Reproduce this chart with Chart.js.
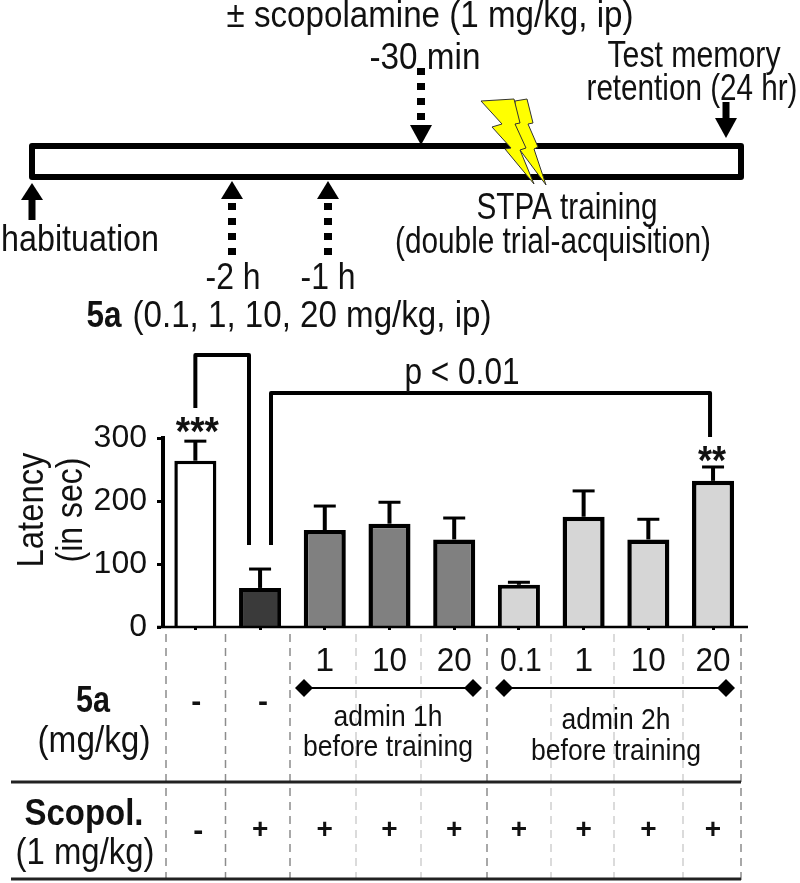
<!DOCTYPE html>
<html>
<head>
<meta charset="utf-8">
<title>Latency chart</title>
<script src="https://cdn.jsdelivr.net/npm/chart.js@4/dist/chart.umd.min.js"></script>
<style>
html, body { margin: 0; padding: 0; background: #fff; }
canvas { display: block; }
</style>
</head>
<body>
<canvas id="chart" width="800" height="883"></canvas>
<script>
const categories = ['vehicle', 'scopolamine', '1h 1', '1h 10', '1h 20', '2h 0.1', '2h 1', '2h 10', '2h 20'];
const latency = [264, 62, 154, 164, 139, 67, 175, 139, 232];
const latencyErr = [31, 30, 38, 34, 34, 4, 41, 32, 22];
const barColors = ['#ffffff', '#3a3a3a', '#808080', '#808080', '#808080', '#d6d6d6', '#d6d6d6', '#d6d6d6', '#d6d6d6'];
const yTicks = [0, 100, 200, 300];
const dose5a = ['-', '-', '1', '10', '20', '0.1', '1', '10', '20'];
const scopol = ['-', '+', '+', '+', '+', '+', '+', '+', '+'];

const FONT = '"Liberation Sans", Arial, sans-serif';
const INK = '#111';

// the reference text is tall and narrow, so width squeezes a larger font
function txt(ctx, s, x, y, size, width, bold) {
    ctx.font = `${bold ? 'bold ' : ''}${size}px ${FONT}`;
    ctx.fillStyle = INK;
    ctx.textAlign = 'center';
    ctx.textBaseline = 'middle';
    if (width) ctx.fillText(s, x, y + 2, width);
    else ctx.fillText(s, x, y + 2);
}

function path(ctx, pts, lw, color) {
    ctx.beginPath();
    pts.forEach((p, i) => i ? ctx.lineTo(p[0], p[1]) : ctx.moveTo(p[0], p[1]));
    ctx.lineWidth = lw;
    ctx.strokeStyle = color || '#000';
    ctx.stroke();
}

function poly(ctx, pts, fill) {
    ctx.beginPath();
    pts.forEach((p, i) => i ? ctx.lineTo(p[0], p[1]) : ctx.moveTo(p[0], p[1]));
    ctx.closePath();
    ctx.fillStyle = fill;
    ctx.fill();
}

// arrow pointing to (x, tip); dir is -1 when it comes from above, 1 from below
function arrow(ctx, x, tip, base, end, dir, dashed) {
    ctx.save();
    if (dashed) ctx.setLineDash([7, 8]);
    path(ctx, [[x, end], [x, base]], dashed ? 8 : 7);
    ctx.restore();
    poly(ctx, [[x, tip], [x - 11, tip + dir * Math.abs(base - tip)], [x + 11, tip + dir * Math.abs(base - tip)]], '#000');
}

function drawSchematic(ctx) {
    ctx.lineJoin = 'round';
    ctx.lineCap = 'butt';
    ctx.fillStyle = '#fff';
    ctx.fillRect(32, 146, 709, 31);
    ctx.strokeStyle = '#000';
    ctx.lineWidth = 6;
    ctx.strokeRect(32, 146, 709, 31);

    arrow(ctx, 421, 145, 125, 68, -1, true);
    arrow(ctx, 726, 138, 118, 102, -1, false);
    arrow(ctx, 32, 183, 200, 220, 1, false);
    arrow(ctx, 232, 181, 199, 255, 1, true);
    arrow(ctx, 328, 181, 199, 255, 1, true);

    const back = [[515, 101], [527, 99], [533, 123], [528, 124], [538, 147], [534, 149], [546, 185], [520, 150], [515, 124]];
    const front = [[481, 101], [514, 99], [520, 123], [515, 124], [526, 148], [520, 150], [534, 184], [505, 149], [511, 148], [492, 127], [502, 124]];
    [back, front].forEach(b => {
        poly(ctx, b, '#ffff00');
        path(ctx, b.concat([b[0]]), 1, '#333');
    });

    txt(ctx, '\u00b1 scopolamine (1 mg/kg, ip)', 430, 15, 36, 407);
    txt(ctx, '-30 min', 425, 57, 36, 111);
    txt(ctx, 'Test memory', 694, 55, 36, 173);
    txt(ctx, 'retention (24 hr)', 692, 88, 36, 211);
    txt(ctx, 'habituation', 80, 239, 36, 158);
    txt(ctx, 'STPA training', 567, 207, 36, 181);
    txt(ctx, '(double trial-acquisition)', 553, 241, 36, 316);
    txt(ctx, '-2 h', 233, 277, 36, 55);
    txt(ctx, '-1 h', 328, 277, 36, 55);
    txt(ctx, '5a', 104, 315, 36, 35, true);
    txt(ctx, '(0.1, 1, 10, 20 mg/kg, ip)', 312, 315, 36, 359);
}

function drawBrackets(ctx, x) {
    ctx.lineJoin = 'round';
    path(ctx, [[x.getPixelForValue(0), 408], [x.getPixelForValue(0), 355], [249, 355], [249, 545]], 4);
    path(ctx, [[271, 545], [271, 393], [x.getPixelForValue(8) - 3, 393], [x.getPixelForValue(8) - 3, 437]], 4);
    txt(ctx, 'p < 0.01', 462, 372, 36, 115);
    txt(ctx, '***', x.getPixelForValue(0) + 2, 432, 40, 43, true);
    txt(ctx, '**', x.getPixelForValue(8) - 1, 461, 40, 28, true);
}

function drawTable(ctx, x) {
    const edges = [166, 225.5, 290, 356, 421, 487, 551, 614, 683, 741];
    ctx.save();
    ctx.setLineDash([8, 6]);
    edges.forEach((px, i) => {
        const light = [3, 4, 6, 7, 8].includes(i);
        path(ctx, [[px, 634], [px, 880]], 1.5, light ? '#cfcfcf' : '#8c8c8c');
    });
    ctx.restore();

    path(ctx, [[11, 782], [741, 782]], 3, '#222');
    path(ctx, [[11, 879], [741, 879]], 3, '#222');

    [[304, 473], [504, 726]].forEach(r => {
        path(ctx, [[r[0], 688], [r[1], 688]], 2);
        r.forEach(d => poly(ctx, [[d, 679], [d + 9, 688], [d, 697], [d - 9, 688]], '#000'));
    });

    dose5a.forEach((d, i) => {
        const px = x.getPixelForValue(i);
        if (d === '-') txt(ctx, d, px + (i ? 3 : 1), 701, 30, 0, true);
        else txt(ctx, d, px + (i === 5 ? 2 : 0), 660, 34, d.length > 1 ? (d.length === 3 ? 42 : 35) : 0);
    });
    scopol.forEach((s, i) => {
        const px = x.getPixelForValue(i);
        txt(ctx, s, px + (i === 0 ? 3 : 0), s === '-' ? 830 : 828, s === '-' ? 30 : 28, 0, true);
    });

    txt(ctx, 'admin 1h', 388, 716, 30, 109);
    txt(ctx, 'before training', 388, 746, 30, 170);
    txt(ctx, 'admin 2h', 616, 719, 30, 109);
    txt(ctx, 'before training', 616, 750, 30, 170);
    txt(ctx, '5a', 93, 700, 36, 34, true);
    txt(ctx, '(mg/kg)', 94, 740, 36, 113);
    txt(ctx, 'Scopol.', 84, 813, 36, 119, true);
    txt(ctx, '(1 mg/kg)', 85, 852, 36, 139);
}

const overlay = {
    id: 'overlay',
    beforeDatasetsDraw(chart) {
        // error bars sit behind the bar tops
        const { ctx, scales: { x, y } } = chart;
        ctx.save();
        latency.forEach((v, i) => {
            const px = x.getPixelForValue(i);
            const top = y.getPixelForValue(v + latencyErr[i]);
            path(ctx, [[px, y.getPixelForValue(v)], [px, top]], 4);
            path(ctx, [[px - 11, top], [px + 11, top]], 3);
        });
        ctx.restore();
    },
    afterDraw(chart) {
        const { ctx, scales: { x, y } } = chart;
        ctx.save();
        path(ctx, [[157, y.getPixelForValue(0)], [748, y.getPixelForValue(0)]], 2.5);
        drawSchematic(ctx);
        drawBrackets(ctx, x);
        drawTable(ctx, x);

        ctx.translate(31, 510);
        ctx.rotate(-Math.PI / 2);
        txt(ctx, 'Latency', 0, 0, 36, 115);
        ctx.rotate(Math.PI / 2);
        ctx.translate(39, 0);
        ctx.rotate(-Math.PI / 2);
        txt(ctx, '(in sec)', 0, 0, 36, 105);
        ctx.restore();
    }
};

new Chart(document.getElementById('chart'), {
    type: 'bar',
    data: {
        labels: categories,
        datasets: [{
            data: latency,
            backgroundColor: barColors,
            borderColor: '#000',
            borderWidth: [3.5, 4, 4.5, 4.5, 4.5, 4, 4.5, 4.5, 4.5],
            barPercentage: 0.65,
            categoryPercentage: 1
        }]
    },
    options: {
        responsive: false,
        animation: false,
        layout: { padding: { left: 0, top: 438, right: 54.6, bottom: 256 } },
        plugins: { legend: { display: false }, tooltip: { enabled: false } },
        scales: {
            x: {
                ticks: { display: false },
                grid: { offset: false, drawOnChartArea: false, tickLength: 3, tickWidth: 3, tickColor: '#000' },
                border: { display: false },
                afterFit: s => { s.height = 0; }
            },
            y: {
                min: 0,
                max: 300,
                afterFit: s => { s.width = 163; },
                afterBuildTicks: s => { s.ticks = yTicks.map(v => ({ value: v })); },
                ticks: { color: INK, padding: 10, font: { family: FONT, size: 32 } },
                grid: { drawOnChartArea: false, tickLength: 6, tickWidth: 3, tickColor: '#000' },
                border: { color: '#000', width: 4 }
            }
        }
    },
    plugins: [overlay]
});
</script>
</body>
</html>
